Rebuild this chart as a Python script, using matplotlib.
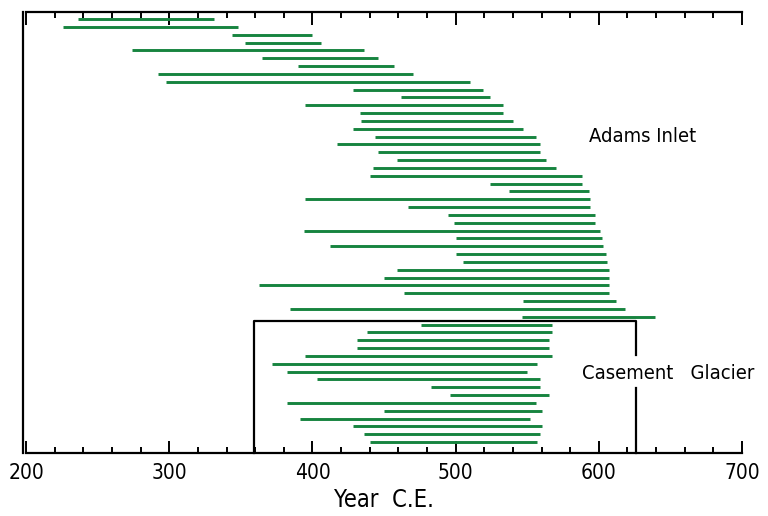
import numpy as np
import matplotlib.pyplot as plt
from matplotlib.ticker import MultipleLocator

plt.rcParams['font.family'] = ['DejaVu Sans']
plt.rcParams['font.stretch'] = 'condensed'

# ring-width series spans (first year, last year), top to bottom
adams_start = [236, 226, 344, 353, 274, 365, 390, 292, 298, 428,
               462, 395, 433, 434, 428, 444, 417, 446, 459, 442,
               440, 524, 537, 395, 467, 495, 499, 394, 500, 412,
               500, 505, 459, 450, 363, 464, 547, 384, 546]
adams_end = [331, 348, 400, 406, 436, 446, 457, 470, 510, 519,
             524, 533, 533, 540, 547, 556, 559, 559, 563, 570,
             588, 588, 593, 594, 594, 597, 597, 601, 602, 603,
             605, 606, 607, 607, 607, 607, 612, 618, 639]
casement_start = [476, 438, 431, 431, 395, 372, 382, 403, 483, 496,
                  382, 450, 391, 428, 436, 440]
casement_end = [567, 567, 565, 565, 567, 557, 550, 559, 559, 565,
                556, 560, 552, 560, 559, 557]

box_x = (359, 626)

green = '#17843f'

fig = plt.figure(figsize=(7.68, 5.16), dpi=100)
ax = fig.add_axes([0.0339, 0.1221, 0.9323, 0.855])

n_a = len(adams_start)
n_c = len(casement_start)
rows_a = np.arange(1, n_a + 1)
rows_c = np.arange(n_a + 1, n_a + n_c + 1)

ax.hlines(rows_a, adams_start, adams_end, color=green, lw=2.1)
ax.hlines(rows_c, casement_start, casement_end, color=green, lw=2.1)

ybot, ytop = n_a + n_c + 1.4, 0.07
ax.set_ylim(ybot, ytop)
ax.set_xlim(200, 700)

# Casement Glacier box, right side broken around its label
box_top = n_a + 0.5
ax.plot([box_x[0], box_x[0], box_x[1], box_x[1]],
        [ybot, box_top, box_top, n_a + 4.9], color='black', lw=1.6, clip_on=False)
ax.plot([box_x[1], box_x[1]], [n_a + 9.1, ybot], color='black', lw=1.6, clip_on=False)

ax.text(593, 16, 'Adams Inlet', fontsize=14.5, va='center', ha='left')
ax.text(588, n_a + 7.2, 'Casement   Glacier', fontsize=14.5, va='center', ha='left')

ax.spines['right'].set_visible(False)
ax.spines['left'].set_position(('outward', 2.5))
for s in ['top', 'bottom', 'left']:
    ax.spines[s].set_linewidth(1.6)

ax.xaxis.set_major_locator(MultipleLocator(100))
ax.xaxis.set_minor_locator(MultipleLocator(20))
ax.tick_params(axis='x', which='both', direction='in', top=True, bottom=True, width=1.4)
ax.tick_params(axis='x', which='major', length=9, labelsize=15, pad=7)
ax.tick_params(axis='x', which='minor', length=4.5)
ax.set_yticks([])

ax.set_xlabel('Year  C.E.', fontsize=17, labelpad=4)

fig.savefig('out.png', dpi=100)
